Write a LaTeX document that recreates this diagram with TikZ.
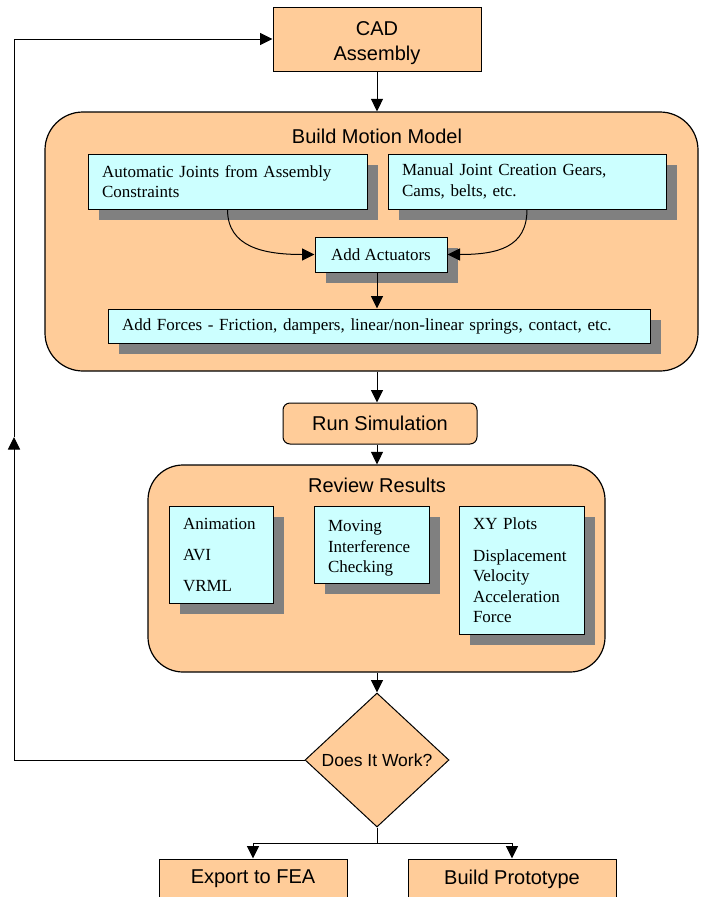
\documentclass[tikz,border=0pt]{standalone}
\usepackage{fontspec}
\setmainfont{Liberation Serif}
\newfontfamily\arialf{Liberation Sans}
\usetikzlibrary{arrows.meta,shapes.geometric,shadows,calc}
\definecolor{peach}{HTML}{FFCC99}
\definecolor{paleblue}{HTML}{CCFFFF}
\definecolor{shadowgray}{HTML}{808080}
\begin{document}
\begin{tikzpicture}[x=1pt,y=-1pt,
  every node/.style={inner sep=0pt},
  sanstext/.style={font=\arialf\fontsize{20}{25}\selectfont},
  orangebox/.style={draw=black, line width=1pt, fill=peach, sanstext, align=center},
  container/.style={draw=black, line width=1.2pt, fill=peach},
  cyanbox/.style={draw=black, line width=1pt, fill=paleblue,
     font=\fontsize{17}{20.5}\selectfont, align=left, inner xsep=14pt, inner ysep=0pt,
     drop shadow={shadow xshift=11pt, shadow yshift=-11pt, opacity=1, fill=shadowgray, draw=none}},
  arr/.style={line width=1pt, -{Triangle[length=12.5pt,width=12pt]}},
  plainline/.style={line width=1pt}
]
\clip (0,0) rectangle (702,897);

% top box
\node[orangebox, minimum width=208pt, minimum height=64pt, text height=42.3pt, text depth=0pt] (cad) at (377,39) {CAD\\Assembly};

% Build Motion Model container
\node[container, rounded corners=38pt, minimum width=653pt, minimum height=259pt] (build) at (371.5,241.5) {};
\node[sanstext] (buildtitle) at (377,136) {Build Motion Model};

\node[cyanbox, text width=251pt, minimum height=55pt] (auto) at (227.5,181.5)
  {Automatic Joints from Assembly\\Constraints};
\node[cyanbox, text width=250pt, minimum height=55pt] (manual) at (527,181.5)
  {Manual Joint Creation Gears,\\Cams, belts, etc.};
\node[cyanbox, align=center, inner xsep=0pt, minimum width=132pt, minimum height=35pt] (act) at (381,254.5)
  {Add Actuators};
\node[cyanbox, text width=514pt, minimum height=34pt] (forces) at (379,326)
  {Add Forces - Friction, dampers, linear/non-linear springs, contact, etc.};

% Run simulation
\node[orangebox, rounded corners=7pt, minimum width=194pt, minimum height=41pt] (run) at (380,423.5) {Run Simulation};

% Review results container
\node[container, rounded corners=35pt, minimum width=457pt, minimum height=207pt] (review) at (376.5,568.5) {};
\node[sanstext] (reviewtitle) at (377,485) {Review Results};

\node[cyanbox, text width=76pt, minimum height=97pt] (anim) at (221,554.5)
  {Animation\\[10.5pt]AVI\\[10.5pt]VRML};
\node[cyanbox, text width=87pt, minimum height=77pt, text height=19pt] (moving) at (371.5,544.5)
  {Moving\\Interference\\Checking};
\node[cyanbox, text width=97pt, minimum height=128pt] (xy) at (521.5,570)
  {XY Plots\\[11.5pt]Displacement\\Velocity\\Acceleration\\Force};

% decision
\node[diamond, draw=black, line width=1pt, fill=peach, minimum width=144pt, minimum height=134pt,
  font=\arialf\fontsize{17.5}{20}\selectfont] (dw) at (377,760) {Does It Work?};

% outputs
\node[orangebox, minimum width=188pt, minimum height=40pt] (fea) at (253,879) {Export to FEA};
\node[orangebox, minimum width=208pt, minimum height=40pt] (proto) at (512,879) {Build Prototype};

% connectors
\draw[arr] (cad.south) -- (cad.south |- build.north);
\draw[arr] (auto.south) .. controls +(0,38) and +(-50,0) .. (act.west);
\draw[arr] (manual.south) .. controls +(0,38) and +(50,0) .. (act.east);
\draw[arr] (act.south -| cad.south) -- (forces.north -| cad.south);
\draw[arr] (build.south -| cad.south) -- (run.north -| cad.south);
\draw[arr] (run.south -| cad.south) -- (review.north -| cad.south);
\draw[arr] (review.south -| cad.south) -- (dw.north);

\coordinate (loopup) at (14,437);
\draw[arr] (dw.west) -| (loopup);
\draw[arr] (loopup) |- (cad.west);

\coordinate (split) at (377,843);
\draw[plainline] (dw.south) -- (split);
\draw[arr] (split) -| (fea.north);
\draw[arr] (split) -| (proto.north);
\end{tikzpicture}
\end{document}
